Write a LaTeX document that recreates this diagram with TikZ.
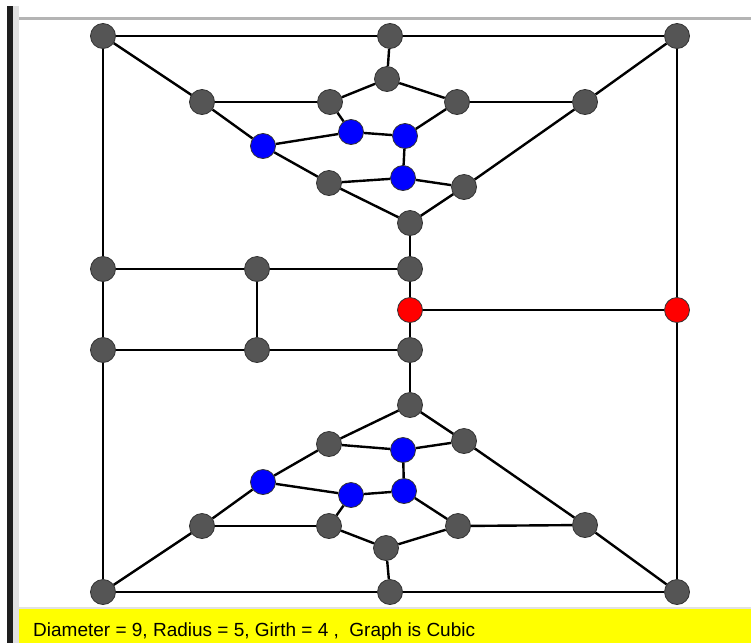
\documentclass[tikz,border=0pt]{standalone}
\usepackage{fontspec}
\setmainfont{Liberation Sans}
\usetikzlibrary{positioning}
\definecolor{vertexgray}{RGB}{85,85,85}
\definecolor{vertexline}{RGB}{50,50,50}
\definecolor{barblack}{RGB}{30,30,30}
\definecolor{barlight}{RGB}{225,225,225}
\definecolor{rulegray}{RGB}{180,180,180}
\definecolor{infoyellow}{RGB}{255,255,0}

\begin{document}
\begin{tikzpicture}[x=1pt, y=-1pt,
    vertex/.style={circle, draw=vertexline, line width=0.8pt, fill=#1, minimum size=25pt, inner sep=0pt},
    vertex/.default=vertexgray,
    edge/.style={line width=2.4pt, color=black}
]
\useasboundingbox (0,0) rectangle (751,643);

% Frame
\fill[white] (0,0) rectangle (751,643);
\fill[barblack] (7,6) rectangle (13,643);
\fill[barlight] (13,6) rectangle (19,643);
\fill[rulegray] (19,17) rectangle (751,20);
\fill[barlight] (19,607) rectangle (751,609);
\fill[infoyellow] (19,609) rectangle (751,643);
\node[anchor=base west, inner sep=0pt, font=\fontsize{19}{21}\selectfont] (info) at (33,636) {Diameter = 9, Radius = 5, Girth = 4 ,\ \ Graph is Cubic};

% Outer frame vertices
\node[vertex] (tl) at (103,36) {};
\node[vertex] (tm) at (390,36) {};
\node[vertex] (tr) at (677,36) {};
\node[vertex] (bl) at (103,592) {};
\node[vertex] (bm) at (390,592) {};
\node[vertex] (br) at (677,592) {};

% Middle ladder
\node[vertex] (l1) at (103,269) {};
\node[vertex] (l2) at (103,350) {};
\node[vertex] (m1) at (257,269) {};
\node[vertex] (m2) at (257,350) {};
\node[vertex] (c1) at (410,269) {};
\node[vertex=red] (c2) at (410,310) {};
\node[vertex] (c3) at (410,350) {};
\node[vertex=red] (r1) at (677,310) {};

% Top gadget
\node[vertex] (ta) at (202,102) {};
\node[vertex] (tb) at (330,102) {};
\node[vertex] (tc) at (387,79) {};
\node[vertex] (td) at (457,102) {};
\node[vertex] (te) at (585,102) {};
\node[vertex=blue] (tu1) at (263,146) {};
\node[vertex=blue] (tu2) at (351,132) {};
\node[vertex=blue] (tu3) at (405,136) {};
\node[vertex=blue] (tu4) at (403,178) {};
\node[vertex] (tf) at (329,183) {};
\node[vertex] (tg) at (464,187) {};
\node[vertex] (th) at (410,223) {};

% Bottom gadget
\node[vertex] (bh) at (410,405) {};
\node[vertex] (bf) at (329,444) {};
\node[vertex] (bg) at (464,441) {};
\node[vertex=blue] (bu4) at (403,450) {};
\node[vertex=blue] (bu1) at (263,482) {};
\node[vertex=blue] (bu2) at (351,495) {};
\node[vertex=blue] (bu3) at (404,491) {};
\node[vertex] (ba) at (202,526) {};
\node[vertex] (bb) at (329,526) {};
\node[vertex] (bc) at (386,548) {};
\node[vertex] (bd) at (458,526) {};
\node[vertex] (be) at (585,525) {};

% Outer edges
\draw[edge] (tl) -- (tm);
\draw[edge] (tm) -- (tr);
\draw[edge] (bl) -- (bm);
\draw[edge] (bm) -- (br);
\draw[edge] (tl) -- (l1);
\draw[edge] (l1) -- (l2);
\draw[edge] (l2) -- (bl);
\draw[edge] (tr) -- (r1);
\draw[edge] (r1) -- (br);

% Ladder edges
\draw[edge] (l1) -- (m1);
\draw[edge] (m1) -- (c1);
\draw[edge] (l2) -- (m2);
\draw[edge] (m2) -- (c3);
\draw[edge] (m1) -- (m2);
\draw[edge] (c1) -- (c2);
\draw[edge] (c2) -- (c3);
\draw[edge] (c2) -- (r1);

% Top gadget edges
\draw[edge] (tl) -- (ta);
\draw[edge] (tm) -- (tc);
\draw[edge] (tr) -- (te);
\draw[edge] (ta) -- (tb);
\draw[edge] (tb) -- (tc);
\draw[edge] (tc) -- (td);
\draw[edge] (td) -- (te);
\draw[edge] (ta) -- (tu1);
\draw[edge] (tb) -- (tu2);
\draw[edge] (tu1) -- (tu2);
\draw[edge] (tu2) -- (tu3);
\draw[edge] (tu3) -- (td);
\draw[edge] (tu3) -- (tu4);
\draw[edge] (tu1) -- (tf);
\draw[edge] (tf) -- (tu4);
\draw[edge] (tu4) -- (tg);
\draw[edge] (te) -- (tg);
\draw[edge] (tf) -- (th);
\draw[edge] (tg) -- (th);
\draw[edge] (th) -- (c1);

% Bottom gadget edges
\draw[edge] (c3) -- (bh);
\draw[edge] (bh) -- (bf);
\draw[edge] (bh) -- (bg);
\draw[edge] (bf) -- (bu4);
\draw[edge] (bu4) -- (bg);
\draw[edge] (bf) -- (bu1);
\draw[edge] (bu4) -- (bu3);
\draw[edge] (bu1) -- (bu2);
\draw[edge] (bu2) -- (bu3);
\draw[edge] (bu1) -- (ba);
\draw[edge] (bu2) -- (bb);
\draw[edge] (bu3) -- (bd);
\draw[edge] (ba) -- (bb);
\draw[edge] (bb) -- (bc);
\draw[edge] (bc) -- (bd);
\draw[edge] (bd) -- (be);
\draw[edge] (bg) -- (be);
\draw[edge] (ba) -- (bl);
\draw[edge] (bc) -- (bm);
\draw[edge] (be) -- (br);

\end{tikzpicture}
\end{document}
